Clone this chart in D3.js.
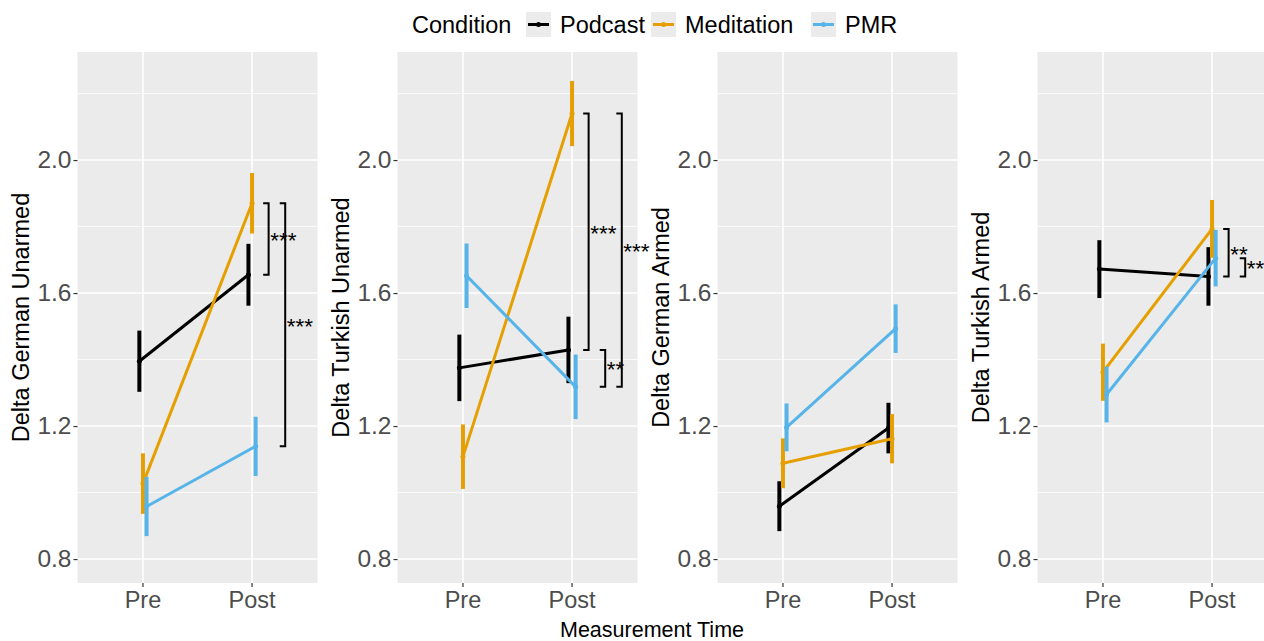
<!DOCTYPE html>
<html><head><meta charset="utf-8">
<script src="https://cdn.jsdelivr.net/npm/d3@7"></script>
<style>body{margin:0;background:#fff}svg{display:block}text{font-family:"Liberation Sans",Arial,Helvetica,sans-serif}</style>
</head><body><svg id="c" width="1264" height="641"></svg>
<script>
const panels = ["Delta German Unarmed","Delta Turkish Unarmed","Delta German Armed","Delta Turkish Armed"];
const times = ["Pre","Post"];
const conditions = ["Podcast","Meditation","PMR"];
const colors = ["#000000","#E69F00","#56B4E9"];
const yTicks = [0.8,1.2,1.6,2.0];
const yMinor = [1.0,1.4,1.8,2.2];
// per panel: [Pre, Post]
const podcastMean = [[1.395,1.655],[1.375,1.429],[0.959,1.194],[1.672,1.650]];
const podcastErr = [[0.092,0.093],[0.100,0.100],[0.075,0.076],[0.087,0.088]];
const meditationMean = [[1.027,1.870],[1.108,2.140],[1.088,1.162],[1.362,1.793]];
const meditationErr = [[0.091,0.091],[0.097,0.098],[0.075,0.074],[0.086,0.087]];
const pmrMean = [[0.958,1.139],[1.652,1.318],[1.196,1.493],[1.295,1.705]];
const pmrErr = [[0.089,0.089],[0.097,0.097],[0.072,0.073],[0.084,0.085]];
// significance brackets
const bracketPanel = [0,0,1,1,1,3,3];
const bracketFrom = ["Meditation","Meditation","Meditation","Podcast","Meditation","Meditation","PMR"];
const bracketTo = ["Podcast","PMR","Podcast","PMR","PMR","Podcast","Podcast"];
const bracketLevel = [1,2,1,2,3,1,2];
const bracketLabel = ["***","***","***","**","***","**","**"];

const means = [podcastMean, meditationMean, pmrMean];
const errs = [podcastErr, meditationErr, pmrErr];

const svg = d3.select("#c");
const FONT = 23.5;
const pTop = 52, pBottom = 583, pw = 240, step = 320, left0 = 77.5;
const y = d3.scaleLinear().domain([0.728, 2.325]).range([pBottom, pTop]);
const dodge = [-0.033, 0, 0.033];

panels.forEach((title, p) => {
  const L = left0 + p * step;
  const x = d3.scaleLinear().domain([0.4, 2.6]).range([L, L + pw]);
  const g = svg.append("g");
  g.append("rect").attr("x", L).attr("y", pTop).attr("width", pw).attr("height", pBottom - pTop).attr("fill", "#EBEBEB");
  g.selectAll(".mn").data(yMinor).join("line").attr("x1", L).attr("x2", L + pw)
    .attr("y1", d => y(d)).attr("y2", d => y(d)).attr("stroke", "#fff").attr("stroke-width", 0.8);
  g.selectAll(".mj").data(yTicks).join("line").attr("x1", L).attr("x2", L + pw)
    .attr("y1", d => y(d)).attr("y2", d => y(d)).attr("stroke", "#fff").attr("stroke-width", 1.6);
  g.selectAll(".vx").data(times).join("line").attr("x1", (d, i) => x(i + 1)).attr("x2", (d, i) => x(i + 1))
    .attr("y1", pTop).attr("y2", pBottom).attr("stroke", "#fff").attr("stroke-width", 1.6);
  // y axis
  const ay = svg.append("g").attr("transform", `translate(${L},0)`)
    .call(d3.axisLeft(y).tickValues(yTicks).tickFormat(d3.format(".1f")).tickSize(4).tickPadding(2));
  ay.select(".domain").remove();
  ay.selectAll(".tick line").attr("stroke", "#333").attr("stroke-width", 1.2);
  ay.selectAll(".tick text").attr("fill", "#4D4D4D").style("font-size", "24.5px").attr("font-family", null);
  // x axis
  const xb = d3.scaleBand().domain(times).range([x(0.5), x(2.5)]);
  const ax = svg.append("g").attr("transform", `translate(0,${pBottom})`)
    .call(d3.axisBottom(xb).tickSize(4).tickPadding(4));
  ax.select(".domain").remove();
  ax.selectAll(".tick line").attr("stroke", "#333").attr("stroke-width", 1.2);
  ax.selectAll(".tick text").attr("fill", "#4D4D4D").style("font-size", FONT + "px").attr("font-family", null);
  // y title
  svg.append("text").attr("transform", `translate(${L - 57},${(pTop + pBottom) / 2}) rotate(-90)`)
    .attr("text-anchor", "middle").attr("dominant-baseline", "central")
    .style("font-size", FONT + "px").attr("fill", "#000").text(title);
  // series
  conditions.forEach((c, ci) => {
    const pts = times.map((t, ti) => ({ x: x(ti + 1 + dodge[ci]), m: means[ci][p][ti], e: errs[ci][p][ti] }));
    g.append("path").attr("d", d3.line().x(d => d.x).y(d => y(d.m))(pts))
      .attr("fill", "none").attr("stroke", colors[ci]).attr("stroke-width", 3);
    g.selectAll(null).data(pts).join("line").attr("x1", d => d.x).attr("x2", d => d.x)
      .attr("y1", d => y(d.m - d.e)).attr("y2", d => y(d.m + d.e)).attr("stroke", colors[ci]).attr("stroke-width", 4);
    g.selectAll(null).data(pts).join("circle").attr("cx", d => d.x).attr("cy", d => y(d.m)).attr("r", 2.5).attr("fill", colors[ci]);
  });
  // brackets
  bracketPanel.forEach((bp, bi) => {
    if (bp !== p) return;
    const v1 = means[conditions.indexOf(bracketFrom[bi])][p][1];
    const v2 = means[conditions.indexOf(bracketTo[bi])][p][1];
    const bx = x(2 + 0.152 * bracketLevel[bi]);
    const tx = x(2 + 0.152 * bracketLevel[bi] - 0.05);
    const y1 = y(v1), y2 = y(v2);
    svg.append("path").attr("d", `M${tx},${y1}H${bx}V${y2}H${tx}`)
      .attr("fill", "none").attr("stroke", "#000").attr("stroke-width", 2);
    svg.append("text").attr("x", bx + 1.5).attr("y", (y1 + y2) / 2 + 9)
      .style("font-size", "22.5px").attr("fill", "#000").text(bracketLabel[bi]);
  });
});

// x title
svg.append("text").attr("x", 652).attr("y", 637).attr("text-anchor", "middle")
  .style("font-size", "21.5px").attr("fill", "#000").text("Measurement Time");

// legend
const lg = svg.append("g");
lg.append("text").attr("x", 412).attr("y", 33).style("font-size", FONT + "px").text("Condition");
const keyX = [526, 651, 811];
conditions.forEach((c, ci) => {
  const k = keyX[ci];
  lg.append("rect").attr("x", k).attr("y", 12).attr("width", 25).attr("height", 25).attr("fill", "#EBEBEB");
  lg.append("line").attr("x1", k + 2).attr("x2", k + 23).attr("y1", 24.5).attr("y2", 24.5).attr("stroke", colors[ci]).attr("stroke-width", 3);
  lg.append("circle").attr("cx", k + 12.5).attr("cy", 24.5).attr("r", 2.5).attr("fill", colors[ci]);
  lg.append("text").attr("x", k + 34).attr("y", 33).style("font-size", FONT + "px").text(c);
});
</script></body></html>
